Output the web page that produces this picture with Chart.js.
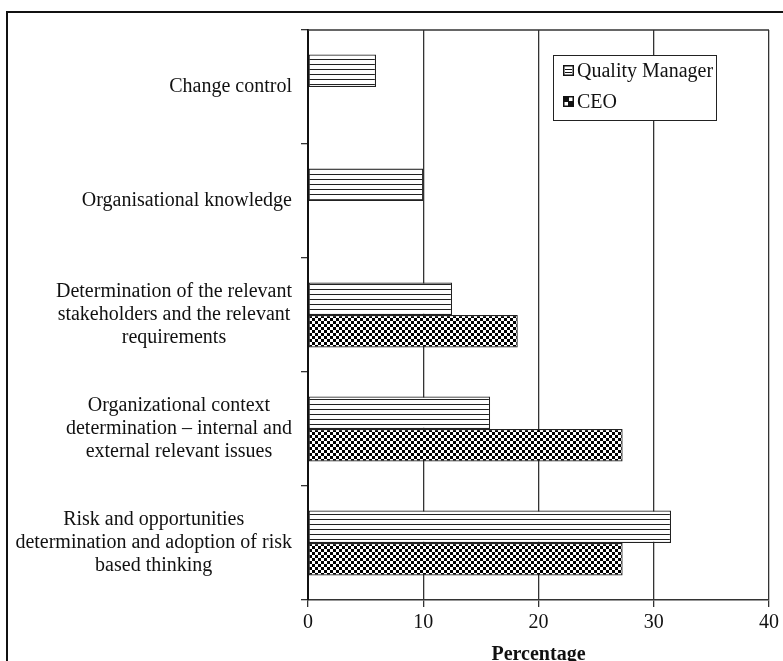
<!DOCTYPE html>
<html>
<head>
<meta charset="utf-8">
<script src="https://cdn.jsdelivr.net/npm/chart.js@4.4.1/dist/chart.umd.min.js"></script>
<style>
    html, body { margin: 0; padding: 0; background: #fff; overflow: hidden; }
    #wrap { position: relative; width: 783px; height: 661px; overflow: hidden; }
    #frame { position: absolute; left: 6px; top: 11px; width: 900px; height: 800px; border: 2px solid #111; box-sizing: border-box; }
    #chart { position: absolute; left: 0; top: 0; }
    #legend {
        position: absolute; left: 553px; top: 55px; width: 164px; height: 66px;
        border: 1.5px solid #222; background: #fff; box-sizing: border-box;
        font-family: 'Liberation Serif', serif; font-size: 20px; color: #111;
    }
    #legend .row { position: absolute; left: 9px; display: flex; align-items: center; gap: 3px; }
    #legend canvas { display: block; }
</style>
</head>
<body>
<div id="wrap">
    <div id="frame"></div>
    <canvas id="chart" width="783" height="680"></canvas>
    <div id="legend"></div>
</div>
<script>
const categories = [
    ['Change control'],
    ['Organisational knowledge'],
    ['Determination of the relevant', 'stakeholders and the relevant', 'requirements'],
    ['Organizational context', 'determination \u2013 internal and', 'external relevant issues'],
    ['Risk and opportunities', 'determination and adoption of risk', 'based thinking']
];
const seriesNames = ['Quality Manager', 'CEO'];
const qualityManager = [5.9, 10.0, 12.5, 15.8, 31.5];
const ceo = [0, 0, 18.2, 27.3, 27.3];
const xTicks = [0, 10, 20, 30, 40];

const FONT = "'Liberation Serif', serif";

function hatchPattern() {
    const c = document.createElement('canvas');
    c.width = 6; c.height = 5;
    const g = c.getContext('2d');
    g.fillStyle = '#fff'; g.fillRect(0, 0, 6, 5);
    g.fillStyle = '#222'; g.fillRect(0, 4, 6, 1);
    return g.createPattern(c, 'repeat');
}

function checkPattern() {
    const c = document.createElement('canvas');
    c.width = 6; c.height = 6;
    const g = c.getContext('2d');
    g.fillStyle = '#fff'; g.fillRect(0, 0, 6, 6);
    g.fillStyle = '#000';
    g.fillRect(0, 0, 3, 3);
    g.fillRect(3, 3, 3, 3);
    return g.createPattern(c, 'repeat');
}

const patterns = [hatchPattern(), checkPattern()];

// left labels: block right-aligned, lines centred inside the block
const categoryLabels = {
    id: 'categoryLabels',
    afterDraw(chart) {
        const ctx = chart.ctx;
        const yScale = chart.scales.y;
        const lh = 23;
        const rightEdge = yScale.right - 16;
        ctx.save();
        ctx.font = '20px ' + FONT;
        ctx.fillStyle = '#111';
        ctx.textAlign = 'center';
        ctx.textBaseline = 'middle';
        categories.forEach((lines, i) => {
            const w = Math.max(...lines.map(l => ctx.measureText(l).width));
            const cx = rightEdge - w / 2;
            const cy = yScale.getPixelForTick(i);
            lines.forEach((l, k) => {
                ctx.fillText(l, cx, cy + (k - (lines.length - 1) / 2) * lh);
            });
        });
        // top border of the plot box
        const a = chart.chartArea;
        ctx.strokeStyle = '#333';
        ctx.lineWidth = 1.5;
        ctx.beginPath();
        ctx.moveTo(a.left, a.top);
        ctx.lineTo(a.right, a.top);
        ctx.stroke();
        ctx.restore();
    }
};

new Chart(document.getElementById('chart'), {
    type: 'bar',
    data: {
        labels: categories.map(c => c.join(' ')),
        datasets: [
            {
                label: seriesNames[0],
                data: qualityManager,
                backgroundColor: patterns[0],
                borderColor: '#222',
                borderWidth: 1.2,
                borderSkipped: false
            },
            {
                label: seriesNames[1],
                data: ceo,
                backgroundColor: patterns[1],
                borderColor: '#222',
                borderWidth: 1.2,
                borderSkipped: false
            }
        ]
    },
    options: {
        indexAxis: 'y',
        responsive: false,
        animation: false,
        devicePixelRatio: 1,
        categoryPercentage: 0.57,
        barPercentage: 1.0,
        layout: { padding: { left: 0, top: 30, right: 14, bottom: 0 } },
        plugins: {
            legend: { display: false },
            tooltip: { enabled: false }
        },
        scales: {
            x: {
                min: 0,
                max: 40,
                afterBuildTicks: s => { s.ticks = xTicks.map(v => ({ value: v })); },
                afterFit: s => { s.height = 80; },
                grid: { color: '#333', lineWidth: 1.3, tickLength: 7 },
                border: { color: '#333', width: 1.5 },
                ticks: { font: { family: FONT, size: 20 }, color: '#111', padding: 4 },
                title: {
                    display: true,
                    text: 'Percentage',
                    font: { family: FONT, size: 20, weight: 'bold' },
                    color: '#111',
                    padding: { top: 0, bottom: 13 }
                }
            },
            y: {
                afterFit: s => { s.width = 308; },
                grid: { drawOnChartArea: false, offset: true, color: '#333', lineWidth: 1.3, tickLength: 7 },
                border: { color: '#111', width: 2 },
                ticks: { display: false }
            }
        }
    },
    plugins: [categoryLabels]
});

// legend box
const legend = document.getElementById('legend');
seriesNames.forEach((name, i) => {
    const row = document.createElement('div');
    row.className = 'row';
    row.style.top = (i === 0 ? 3 : 34) + 'px';
    const sw = document.createElement('canvas');
    sw.width = 11; sw.height = 11;
    const g = sw.getContext('2d');
    g.fillStyle = '#fff'; g.fillRect(0, 0, 11, 11);
    g.fillStyle = '#111';
    if (i === 0) {
        g.fillRect(2, 4, 7, 1);
        g.fillRect(2, 7, 7, 1);
    } else {
        g.fillRect(0, 0, 6, 6);
        g.fillRect(5, 5, 6, 6);
    }
    g.strokeStyle = '#111'; g.lineWidth = 1.5;
    g.strokeRect(0.75, 0.75, 9.5, 9.5);
    const t = document.createElement('span');
    t.textContent = name;
    row.appendChild(sw);
    row.appendChild(t);
    legend.appendChild(row);
});
</script>
</body>
</html>
